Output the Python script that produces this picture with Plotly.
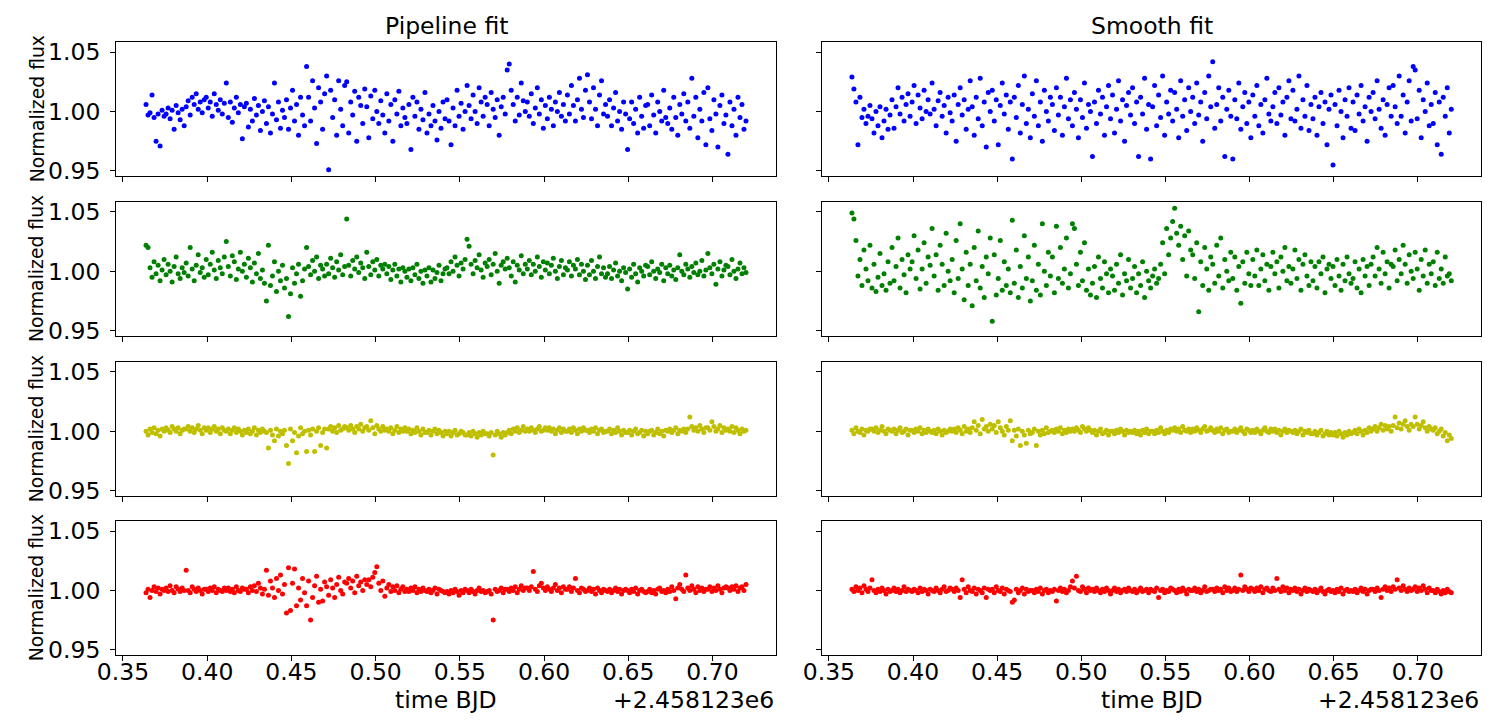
import numpy as np
import plotly.graph_objects as go

# Time cadence (BJD - 2458123), first and last exposure
T_START = 0.3637
T_END = 0.7199

# Flux deviations from 1.0, in parts per thousand (left to right)
pipeline_blue_ppt = [
    6,-3,-1,14,-5,-25,-2,-29,1,-4,
    -2,3,-6,1,-15,5,-1,-7,2,-12,
    4,9,-3,12,6,15,2,8,-1,10,
    12,3,8,-4,15,6,1,10,-2,7,
    24,-5,8,-9,3,12,-1,6,-23,4,
    7,-13,2,-8,11,-3,5,-16,0,9,
    -10,4,-18,-2,24,-7,8,-14,1,-5,
    10,-15,3,18,-8,6,-20,12,-3,-12,
    38,12,-8,26,3,-27,20,8,-15,15,
    30,-49,18,-5,10,-20,26,2,-12,22,
    25,-18,8,-3,17,-25,12,5,-10,19,
    4,-22,13,-6,18,0,-10,9,-3,-18,
    15,-8,6,-25,10,-2,17,-12,3,-5,
    -10,6,-32,12,-4,8,-15,2,-7,16,
    -18,-2,-12,5,-8,-24,0,-14,8,-6,
    10,-8,-28,3,-12,18,-4,7,-15,0,
    22,5,-6,14,0,-10,20,8,-4,12,
    6,-12,16,2,-5,10,-20,4,12,-2,
    35,40,18,6,-8,12,-3,24,9,0,
    8,-4,15,-10,3,20,-2,10,-14,5,
    -6,12,2,-12,8,0,16,-4,6,-8,
    14,-2,22,5,-8,10,28,2,-5,18,
    31,8,-6,20,2,-12,14,26,-2,6,
    -4,10,-12,3,16,-8,0,-15,8,-2,
    -32,-6,8,-10,2,-18,12,-4,-14,5,
    6,-12,14,-3,-18,8,0,-8,18,-5,
    -10,3,-15,12,-5,-20,6,-2,15,-8,
    8,-14,28,-4,12,-22,2,-8,16,-28,
    20,-6,-16,10,-2,-30,5,14,-10,-3,
    -36,8,-12,2,-20,12,-5,6,-15,-8,
]

pipeline_green_ppt = [
    22,20,3,-5,8,-2,5,-8,1,10,
    -3,6,0,-9,4,12,-2,-6,3,-1,
    7,-4,20,2,-8,5,14,-1,3,-5,
    10,-3,6,16,1,-6,9,3,-2,12,
    25,4,-4,13,8,-7,2,16,0,6,
    -5,11,3,-9,7,-2,15,-6,1,-10,
    -25,22,-12,-4,8,-17,0,-8,5,-14,
    -6,-38,-19,3,-10,-2,6,-21,-8,2,
    20,4,-3,9,0,12,-6,5,2,-4,
    6,-2,11,3,-5,8,1,14,-3,4,
    44,5,-4,9,2,12,-1,7,3,-6,
    16,4,-3,8,1,10,-4,5,2,6,
    -2,4,-7,1,6,-4,2,-9,3,0,
    -5,2,-8,3,-3,6,-6,0,-10,1,
    -4,3,-9,1,-6,-1,5,-8,-2,2,
    3,-2,8,0,12,5,-4,7,2,10,
    27,21,6,-2,9,3,14,1,-5,7,
    4,10,-3,6,15,0,-10,5,8,2,
    11,3,-4,8,-9,5,1,13,-2,6,
    2,9,-3,6,0,12,4,-5,8,1,
    7,-2,5,11,0,-6,4,9,-3,3,
    1,8,-4,5,2,10,-3,6,0,-7,
    5,-3,9,0,-6,4,12,-2,3,-5,
    -2,4,-6,1,7,-4,0,-8,3,-1,
    -15,2,-5,6,-2,-9,3,0,-4,5,
    4,-3,8,0,-6,2,-1,6,-8,3,
    -2,5,-4,1,-7,3,14,0,-3,6,
    2,-5,4,-1,7,-3,0,9,-4,1,
    15,3,-2,6,-11,2,8,-4,1,5,
    4,-3,10,0,-6,2,7,-2,3,-1,
]

pipeline_yellow_ppt = [
    0,-3,2,-1,3,-2,1,-4,2,0,
    3,1,-1,4,2,0,3,-2,1,2,
    2,4,0,3,-1,2,5,1,-2,3,
    1,3,-1,2,4,0,2,-2,3,1,
    0,2,-2,1,3,-1,2,0,-3,1,
    -1,2,-2,0,3,-3,1,-1,2,0,
    -1,-14,1,-3,-8,2,-4,0,-2,1,
    -12,-27,2,-8,-1,-18,-4,3,-2,0,
    -17,1,-3,2,-17,0,3,-12,-1,2,
    -14,2,4,0,3,-1,5,1,2,4,
    3,1,5,2,-1,4,2,6,0,3,
    4,1,9,3,-2,5,2,0,4,1,
    2,0,3,-2,1,4,-1,2,0,3,
    0,2,-2,1,-1,3,0,-3,2,-1,
    -1,1,-3,0,2,-2,1,-1,-4,0,
    -2,0,-4,-1,1,-3,-2,0,-1,-3,
    -3,-1,-4,0,-2,-5,-1,-3,0,-2,
    -2,-4,-1,-20,-3,0,-2,-5,-1,-3,
    -1,1,-2,2,0,3,-1,1,4,0,
    2,0,3,1,-1,2,4,0,1,3,
    1,3,0,2,-2,1,3,-1,2,0,
    0,2,-1,3,1,-2,2,0,3,1,
    1,-1,2,0,3,-2,1,2,-1,0,
    0,2,-2,1,-1,3,0,-3,1,-1,
    -1,1,-3,0,2,-2,-1,1,-4,0,
    -2,0,1,-3,-1,2,-2,0,-4,1,
    0,2,-1,1,3,-2,1,0,2,-1,
    2,12,4,1,3,0,5,2,-1,3,
    3,1,8,4,0,2,5,-1,3,1,
    2,0,4,-1,3,1,-2,2,0,1,
]

pipeline_red_ppt = [
    -2,1,-6,0,3,-1,2,-3,1,0,
    2,-1,4,0,-2,3,1,-1,2,0,
    17,0,-2,3,1,-1,2,0,-3,1,
    1,-1,2,0,3,-2,1,0,-1,2,
    0,2,-1,1,-2,3,0,-1,2,1,
    1,-2,3,0,4,-1,6,2,-3,1,
    17,-4,8,2,-6,10,0,13,-3,5,
    -19,19,-17,6,18,-13,2,-8,10,-2,
    -13,8,-25,-6,4,12,-10,1,-9,7,
    3,-4,9,2,-6,5,11,0,-3,7,
    6,10,2,8,-2,12,4,7,0,9,
    5,9,3,11,15,20,6,0,8,-5,
    2,5,-1,3,0,4,-2,1,3,-1,
    1,-1,2,0,3,-2,1,-1,2,0,
    -1,1,-2,0,2,-3,1,0,-1,-2,
    -1,-3,0,-2,1,-1,-4,0,-2,1,
    0,-2,1,-1,-3,0,2,-1,0,-2,
    -1,0,-3,-25,1,-1,0,2,-2,1,
    1,-1,2,0,3,-2,1,4,0,2,
    2,0,3,16,1,-1,4,6,2,0,
    3,1,-1,2,5,0,2,-2,3,1,
    1,3,-1,2,10,0,-2,2,1,-1,
    0,2,-1,1,-3,2,0,-2,1,0,
    -1,1,-2,0,2,-1,1,-3,0,1,
    0,-2,1,-1,2,-3,0,1,-1,-2,
    -1,1,-2,0,-3,1,2,-1,0,-2,
    1,-1,3,0,-7,2,5,1,-1,13,
    2,0,4,1,-2,3,0,2,-1,1,
    1,3,-1,2,0,4,1,-2,2,3,
    2,0,3,1,4,-1,2,3,0,5,
]

smooth_blue_ppt = [
    29,19,8,-28,12,-5,2,-10,-4,5,
    -6,-18,0,-12,4,-22,-8,2,-15,-3,
    10,-14,4,20,-2,12,-8,6,15,-4,
    8,22,-10,14,3,-6,18,0,10,-2,
    24,2,-12,9,16,-4,5,-18,12,-1,
    -8,14,-25,6,20,-3,10,-15,2,26,
    4,-20,12,-6,28,-12,8,-30,16,0,
    18,-8,10,-28,5,24,-2,14,-15,8,
    -40,12,-5,22,-18,6,30,-10,2,-22,
    15,-4,26,-12,8,-25,18,0,-8,12,
    6,-16,20,-3,12,-20,4,28,-6,10,
    -12,16,2,-22,10,-5,24,-14,6,0,
    -38,8,-10,18,-2,12,-20,4,22,-6,
    14,-18,2,26,-8,10,-25,5,16,-3,
    20,-10,8,-38,12,-2,28,-15,6,-40,
    4,22,-12,14,-5,30,-20,8,-2,18,
    -8,16,2,-22,26,-4,10,-16,20,0,
    12,-10,24,-3,8,-25,16,-6,30,4,
    42,-14,6,20,-8,12,-38,2,18,-4,
    -40,10,-6,24,-15,4,16,-10,8,-22,
    14,-4,22,-12,6,-18,10,28,-2,-8,
    4,16,-10,20,-3,8,-20,12,26,-6,
    18,-8,2,30,-14,10,-4,22,-16,6,
    -6,12,-20,4,16,-10,8,-28,2,14,
    -45,6,-12,18,0,-22,10,-4,20,-14,
    8,-16,14,-2,22,-8,4,-25,12,0,
    16,-6,26,2,-14,10,-20,6,20,-4,
    22,4,-10,30,-4,14,-18,8,26,-8,
    38,35,-6,18,-22,10,0,24,-12,6,
    -10,16,-28,8,-36,12,-4,20,-18,2,
]

smooth_green_ppt = [
    49,44,26,-4,10,-12,18,2,-8,22,
    -14,6,-17,-5,15,-12,-2,-16,8,-10,
    20,-8,4,28,-14,10,-3,-18,14,2,
    8,30,-6,18,-15,2,24,-10,12,5,
    36,-4,14,-16,22,6,-12,32,0,-8,
    10,-18,26,-6,40,2,-24,16,-12,6,
    -29,20,-8,34,-14,4,-22,12,-2,28,
    -42,14,-20,-6,26,-16,8,-12,2,-18,
    43,-10,18,-22,4,-14,30,-6,12,-25,
    -8,22,-16,6,-20,40,0,-12,16,-4,
    12,-18,38,-6,20,-10,2,28,-14,-2,
    40,36,6,-12,16,-8,24,-16,2,-20,
    -10,4,-22,12,-6,-14,8,-2,-18,2,
    -4,-16,6,-10,14,-20,-2,-8,10,-14,
    -6,4,-18,-2,-12,8,-22,0,-8,-14,
    -4,2,-10,-6,6,24,-2,36,14,28,
    42,53,32,22,38,10,30,-4,34,18,
    14,-6,24,-34,8,-12,20,2,-16,12,
    6,-10,22,-4,28,-14,10,0,-8,16,
    -6,12,-16,4,-27,8,-10,16,-2,-12,
    10,-4,18,-12,2,14,-8,6,-16,4,
    16,-2,8,-14,12,0,20,-8,4,-10,
    2,18,-6,10,-16,6,14,-4,-12,8,
    -8,4,-14,8,-2,12,-18,2,6,-6,
    4,-12,10,-4,-16,6,-8,12,-2,-10,
    -6,8,-14,2,-18,10,-4,4,-12,6,
    12,-4,20,2,-10,16,-2,8,-14,6,
    4,18,-8,10,-2,22,6,-10,14,0,
    -6,16,2,-16,10,-4,18,-10,6,-2,
    8,-12,16,-6,2,-10,12,-4,-2,-8,
]

smooth_yellow_ppt = [
    1,-2,3,0,-1,2,-3,1,0,2,
    2,0,3,-1,1,4,0,-2,2,1,
    0,2,-2,1,3,-1,0,2,-3,1,
    1,-1,2,0,3,-2,1,-1,2,0,
    -1,1,-2,2,0,-3,1,-1,0,2,
    0,2,-1,3,1,-2,4,0,2,-1,
    3,8,1,5,-2,10,2,4,0,6,
    2,5,-1,8,3,0,-3,4,1,9,
    -8,1,-4,2,-12,0,-3,-10,1,-2,
    -1,2,-12,0,-3,1,-2,3,-1,0,
    1,-1,2,0,3,-2,1,-1,2,0,
    2,0,3,1,-1,4,2,0,3,1,
    -1,1,-3,0,2,-2,-1,1,-3,0,
    0,-2,1,-1,2,0,-3,1,-1,0,
    -1,1,-2,0,-3,1,-1,2,-2,0,
    0,-2,1,-1,3,0,-2,1,-1,2,
    1,3,0,2,-1,4,1,0,2,-1,
    2,0,3,1,-1,2,4,0,1,3,
    1,-1,2,0,3,-2,1,2,-1,0,
    0,2,-1,1,3,0,-2,2,1,-1,
    1,-1,2,0,-2,1,3,0,-1,2,
    0,2,-1,1,-3,0,2,-1,1,0,
    -1,1,-2,0,2,-3,0,-1,1,-2,
    -2,0,-3,-1,1,-4,-2,0,-3,-1,
    -3,-1,-4,0,-2,-5,-1,-3,0,-2,
    -1,1,-2,2,0,-3,1,-1,3,0,
    2,4,0,3,6,1,5,2,4,0,
    5,12,3,7,2,6,9,4,1,6,
    4,12,6,2,5,8,3,0,4,2,
    1,3,-2,0,2,-4,-1,-8,-3,-6,
]

smooth_red_ppt = [
    1,-1,3,0,2,-2,4,1,-1,2,
    9,0,-2,1,-1,2,0,-3,1,-1,
    0,2,-1,1,-2,0,3,-1,1,0,
    -1,1,0,-2,2,-1,1,0,-3,1,
    0,-1,2,0,-2,1,3,-1,0,2,
    1,-1,2,0,-6,9,1,-2,3,0,
    -1,2,-3,1,0,-2,2,-6,1,0,
    1,-2,3,0,-1,2,-3,1,0,-1,
    -10,-8,1,-2,0,2,-3,1,-1,0,
    0,-2,1,-1,2,-3,0,1,-2,0,
    -1,1,-9,0,2,-1,1,-2,0,3,
    8,2,12,0,-1,3,1,-2,2,0,
    1,-1,2,0,-2,1,-1,2,0,-3,
    0,2,-1,1,-2,0,1,-1,2,0,
    -1,1,-2,0,2,-1,0,1,-2,1,
    0,-1,2,-6,0,1,-2,0,-1,2,
    1,0,-2,1,-1,2,0,-3,1,0,
    0,2,-1,1,-2,0,3,-1,0,1,
    1,-1,2,0,1,-2,3,0,2,-1,
    0,2,-1,1,13,0,3,1,-1,2,
    1,-1,2,0,3,-2,1,2,0,-1,
    2,0,10,1,-1,3,0,2,-2,1,
    0,2,-1,1,-3,0,2,-1,1,0,
    -1,1,-2,0,2,-1,-3,0,1,-1,
    0,-2,1,-1,2,-3,0,1,-1,0,
    -1,1,-2,0,2,-1,1,-3,0,1,
    1,-1,2,0,-6,1,3,0,2,-1,
    3,1,9,2,0,4,1,-1,2,0,
    1,3,-1,2,0,4,1,-2,2,0,
    0,-2,1,-1,-3,0,-2,1,-1,-2,
]

column_titles = ["Pipeline fit", "Smooth fit"]
x_tick_values = [0.35, 0.40, 0.45, 0.50, 0.55, 0.60, 0.65, 0.70]
x_tick_labels = ["0.35", "0.40", "0.45", "0.50", "0.55", "0.60", "0.65", "0.70"]
y_tick_values = [0.95, 1.00, 1.05]
y_tick_labels = ["0.95", "1.00", "1.05"]
y_label = "Normalized flux"
x_label = "time BJD"
x_offset_label = "+2.458123e6"

panels = [
    # (row, col, values, colour)
    (0, 0, pipeline_blue_ppt, "#0000ff"),
    (1, 0, pipeline_green_ppt, "#008000"),
    (2, 0, pipeline_yellow_ppt, "#bfbf00"),
    (3, 0, pipeline_red_ppt, "#ff0000"),
    (0, 1, smooth_blue_ppt, "#0000ff"),
    (1, 1, smooth_green_ppt, "#008000"),
    (2, 1, smooth_yellow_ppt, "#bfbf00"),
    (3, 1, smooth_red_ppt, "#ff0000"),
]

W, H = 1498, 722
col_dom = [[98.3 / W, 766.7 / W], [813.3 / W, 1481.0 / W]]
row_px = [(39.0, 175.0), (201.7, 337.7), (364.7, 500.7), (526.7, 662.7)]
row_dom = [[1 - b / H, 1 - t / H] for t, b in row_px]

X_RANGE = [0.3459, 0.7377]
Y_RANGE = [0.9458, 1.0583]
FONT = "DejaVu Sans"
TICK_SIZE = 23.5

fig = go.Figure()
layout = dict(
    width=W, height=H,
    margin=dict(l=0, r=0, t=0, b=0),
    paper_bgcolor="white", plot_bgcolor="white",
    showlegend=False,
    font=dict(family=FONT, color="black"),
)

annotations = []
for i, (r, c, vals, colour) in enumerate(panels):
    k = i + 1
    t = np.linspace(T_START, T_END, len(vals))
    flux = 1.0 + np.array(vals, dtype=float) / 1000.0
    xa = "x" if k == 1 else f"x{k}"
    ya = "y" if k == 1 else f"y{k}"
    fig.add_trace(go.Scatter(
        x=t, y=flux, mode="markers", xaxis=xa, yaxis=ya,
        marker=dict(size=5, color=colour, line=dict(width=0)),
        hoverinfo="skip",
    ))
    xkey = "xaxis" if k == 1 else f"xaxis{k}"
    ykey = "yaxis" if k == 1 else f"yaxis{k}"
    layout[xkey] = dict(
        domain=col_dom[c], anchor=ya, range=X_RANGE,
        tickvals=x_tick_values, ticktext=x_tick_labels,
        showticklabels=(r == 3),
        ticks="outside", ticklen=5, tickwidth=1, tickcolor="black",
        ticklabelstandoff=-9,
        showline=True, mirror=True, linecolor="black", linewidth=1,
        showgrid=False, zeroline=False,
        tickfont=dict(family=FONT, size=TICK_SIZE, color="black"),
    )
    layout[ykey] = dict(
        domain=row_dom[r], anchor=xa, range=Y_RANGE,
        tickvals=y_tick_values, ticktext=y_tick_labels,
        showticklabels=(c == 0),
        ticks="outside", ticklen=5, tickwidth=1, tickcolor="black",
        ticklabelstandoff=5,
        showline=True, mirror=True, linecolor="black", linewidth=1,
        showgrid=False, zeroline=False,
        tickfont=dict(family=FONT, size=TICK_SIZE, color="black"),
    )

for c in range(2):
    cx = (col_dom[c][0] + col_dom[c][1]) / 2
    annotations.append(dict(
        text=column_titles[c], xref="paper", yref="paper",
        x=cx, y=1 - 22 / H,
        xanchor="center", yanchor="middle", showarrow=False,
        font=dict(family=FONT, size=23.5, color="black"),
    ))
    annotations.append(dict(
        text=x_label, xref="paper", yref="paper",
        x=cx, y=0, yshift=-3,
        xanchor="center", yanchor="bottom", showarrow=False,
        font=dict(family=FONT, size=23.5, color="black"),
    ))
    annotations.append(dict(
        text=x_offset_label, xref="paper", yref="paper",
        x=col_dom[c][1], y=0, yshift=-3,
        xanchor="right", yanchor="bottom", showarrow=False,
        font=dict(family=FONT, size=23.5, color="black"),
    ))

for r in range(4):
    annotations.append(dict(
        text=y_label, xref="paper", yref="paper",
        x=18.5 / W, y=(row_dom[r][0] + row_dom[r][1]) / 2,
        xanchor="center", yanchor="middle", textangle=-90, showarrow=False,
        font=dict(family=FONT, size=18.8, color="black"),
    ))

layout["annotations"] = annotations
fig.update_layout(**layout)

fig.write_html(
    "out.html",
    config={"displayModeBar": False},
    post_script="document.body.style.margin='0';",
)
